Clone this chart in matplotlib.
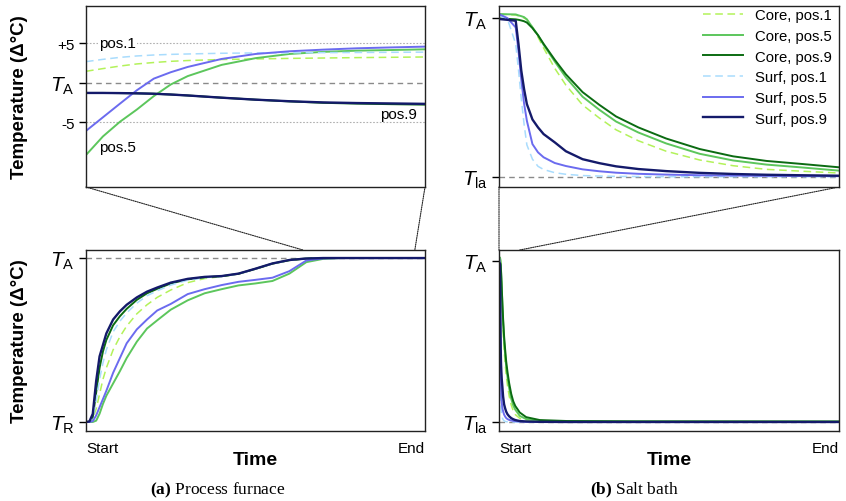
import matplotlib
matplotlib.use("Agg")
import matplotlib.pyplot as plt
from matplotlib.patches import ConnectionPatch

plt.rcParams["font.family"] = ["Liberation Sans", "DejaVu Sans"]
plt.rcParams["mathtext.fontset"] = "custom"
plt.rcParams["mathtext.rm"] = "Liberation Sans"
plt.rcParams["mathtext.it"] = "Liberation Sans:italic"
plt.rcParams["mathtext.bf"] = "Liberation Serif:bold"

# ---------------- data ----------------
series_labels = ["Core, pos.1", "Core, pos.5", "Core, pos.9",
                 "Surf, pos.1", "Surf, pos.5", "Surf, pos.9"]

# Process furnace, full run (0 = T_R, 1 = T_A), time normalised Start..End
furnace_time = [0, .01, .02, .03, .04, .05, .06, .08, .10, .12, .15, .18, .21,
                .25, .30, .35, .40, .45, .50, .55, .60, .65, .70, .75, .80, 1.0]
furnace_core_pos1 = [0, .002, .02, .08, .17, .26, .33, .44, .52, .585, .66, .715, .76,
                     .805, .85, .875, .887, .903, .933, .965, .986, .996, 1, 1, 1, 1]
furnace_core_pos5 = [0, 0, 0, .008, .05, .11, .16, .235, .31, .39, .49, .57, .62,
                     .685, .742, .785, .81, .833, .845, .86, .905, .975, .995, 1, 1, 1]
furnace_core_pos9 = [0, .002, .03, .18, .33, .43, .50, .59, .645, .69, .745, .785, .812,
                     .845, .87, .883, .889, .904, .934, .966, .987, .997, 1, 1, 1, 1]
furnace_surf_pos1 = [0, .002, .025, .13, .26, .36, .44, .55, .615, .665, .725, .77, .80,
                     .835, .865, .88, .888, .904, .934, .966, .987, .997, 1, 1, 1, 1]
furnace_surf_pos5 = [0, 0, .005, .04, .09, .14, .19, .30, .39, .48, .565, .625, .68,
                     .72, .78, .81, .835, .855, .867, .88, .92, .985, .998, 1, 1, 1]
furnace_surf_pos9 = [0, .003, .05, .25, .40, .47, .54, .625, .675, .715, .76, .795, .82,
                     .85, .873, .885, .89, .905, .935, .967, .988, .997, 1, 1, 1, 1]

# Process furnace, close-up of the holding phase (deviation from T_A in °C)
furnace_zoom_time = [0, .05, .1, .15, .2, .25, .3, .4, .5, .6, .7, .8, .9, 1.0]
furnace_zoom_core_pos1 = [1.44, 1.78, 2.1, 2.37, 2.55, 2.7, 2.8, 2.93, 3.0, 3.07, 3.12, 3.17, 3.21, 3.25]
furnace_zoom_core_pos5 = [-9.15, -6.8, -4.95, -3.4, -1.7, -.23, .83, 2.25, 3.1, 3.63, 3.9, 4.05, 4.13, 4.22]
furnace_zoom_core_pos9 = [-1.3, -1.3, -1.32, -1.35, -1.4, -1.5, -1.62, -1.9, -2.15, -2.37, -2.55, -2.65, -2.72, -2.78]
furnace_zoom_surf_pos1 = [2.66, 2.95, 3.2, 3.38, 3.5, 3.58, 3.63, 3.72, 3.76, 3.78, 3.8, 3.82, 3.84, 3.86]
furnace_zoom_surf_pos5 = [-6.1, -4.38, -2.66, -.96, .51, 1.32, 1.99, 3.0, 3.63, 3.97, 4.18, 4.35, 4.46, 4.56]
furnace_zoom_surf_pos9 = [-1.3, -1.3, -1.32, -1.35, -1.4, -1.5, -1.62, -1.9, -2.15, -2.35, -2.5, -2.58, -2.63, -2.68]

# Salt bath (1 = T_A, 0 = T_la), time in arbitrary units, run length 1000
bath_time = [0, 1.5, 3, 3.5, 4, 4.5, 5, 6, 7, 8, 10, 12, 15, 18, 21, 25, 30,
             36, 42, 48, 54, 61, 80, 120, 200, 400, 1000]
bath_core_pos1 = [1.023, 1.02, 1.017, 1.012, 1.005, .998, .99, .94, .878, .81, .682, .576, .451,
                  .369, .295, .226, .16, .105, .069, .046, .035, .023, .010, .004, .002, .001, .001]
bath_core_pos5 = [1.023, 1.022, 1.021, 1.015, 1.01, 1.004, .99, .94, .89, .83, .725, .625, .503,
                  .421, .347, .278, .209, .144, .102, .076, .059, .038, .018, .007, .003, .002, .002]
bath_core_pos9 = [.996, .993, .99, .987, .983, .978, .97, .935, .89, .836, .736, .644, .532,
                  .452, .379, .31, .24, .174, .128, .099, .081, .059, .03, .012, .006, .004, .003]
bath_surf_pos1 = [1.013, .994, .835, .67, .49, .33, .2, .11, .065, .045, .025, .015, .007,
                  .004, .002, .001, 0, 0, 0, 0, 0, 0, 0, 0, 0, 0, 0]
bath_surf_pos5 = [1.023, .998, .939, .79, .61, .46, .352, .205, .153, .122, .086, .067, .046,
                  .034, .025, .018, .013, .009, .007, .005, .004, .003, .001, 0, 0, 0, 0]
bath_surf_pos9 = [.992, .987, .981, .834, .667, .551, .457, .36, .31, .268, .216, .16, .11,
                  .085, .065, .048, .035, .024, .017, .012, .009, .006, .003, .001, 0, 0, 0]

furnace_window = (0.64, 0.97)   # part of the furnace run shown in the close-up
bath_window = (0, 61)           # part of the bath run shown in the close-up

# ---------------- styles ----------------
styles = [
    dict(color="#b3f25a", lw=1.1, ls=(0, (5, 3))),
    dict(color="#5cc65c", lw=1.4, ls="-"),
    dict(color="#0b6b12", lw=1.4, ls="-"),
    dict(color="#a9dcfd", lw=1.1, ls=(0, (5, 3))),
    dict(color="#6b6bef", lw=1.4, ls="-"),
    dict(color="#141a6a", lw=1.7, ls="-"),
]

W, H = 846, 502
fig = plt.figure(figsize=(W / 100, H / 100), dpi=100)


def add_ax(left, top, right, bottom):
    return fig.add_axes([left / W, 1 - bottom / H, (right - left) / W, (bottom - top) / H])


ax_fz = add_ax(86, 7, 425, 188)
ax_f = add_ax(86, 251, 425, 432)
ax_bz = add_ax(499, 7, 839, 188)
ax_b = add_ax(499, 251, 839, 432)

for ax in (ax_fz, ax_f, ax_bz, ax_b):
    for sp in ax.spines.values():
        sp.set_color("#222222")
        sp.set_linewidth(1.0)
    ax.tick_params(axis="y", length=5, width=1.0, labelsize=11, pad=3)
    ax.tick_params(axis="x", length=0)

ref_line = dict(color="#8a8a8a", lw=1.0, ls=(0, (4, 3)), zorder=1)

# ---- furnace close-up ----
fz_series = [furnace_zoom_core_pos1, furnace_zoom_core_pos5, furnace_zoom_core_pos9,
             furnace_zoom_surf_pos1, furnace_zoom_surf_pos5, furnace_zoom_surf_pos9]
ax_fz.axhline(0, **ref_line)
for lvl in (5, -5):
    ax_fz.axhline(lvl, color="#b0b0b0", lw=0.8, ls=(0, (1.5, 1.5)), zorder=1)
for ys, st in zip(fz_series, styles):
    ax_fz.plot(furnace_zoom_time, ys, **st)
ax_fz.set_xlim(0, 1)
ax_fz.set_ylim(-13.2, 9.7)
ax_fz.set_xticks([])
ax_fz.set_yticks([5, 0, -5])
ax_fz.set_yticklabels(["+5", r"$T_\mathrm{A}$", "-5"])
ax_fz.get_yticklabels()[1].set_fontsize(15)
txt_box = dict(facecolor="white", edgecolor="none", pad=1.0)
ax_fz.text(0.038, 5, "pos.1", fontsize=11, ha="left", va="center", bbox=txt_box, zorder=3)
ax_fz.text(0.038, -8.1, "pos.5", fontsize=11, ha="left", va="center", zorder=3)
ax_fz.text(0.976, -4.0, "pos.9", fontsize=11, ha="right", va="center", zorder=3)

# ---- furnace full ----
f_series = [furnace_core_pos1, furnace_core_pos5, furnace_core_pos9,
            furnace_surf_pos1, furnace_surf_pos5, furnace_surf_pos9]
ax_f.axhline(1, **ref_line)
for ys, st in zip(f_series, styles):
    ax_f.plot(furnace_time, ys, **st)
ax_f.set_xlim(0, 1)
ax_f.set_ylim(-0.055, 1.049)
ax_f.set_yticks([1, 0])
ax_f.set_yticklabels([r"$T_\mathrm{A}$", r"$T_\mathrm{R}$"], fontsize=15)

# ---- bath close-up ----
b_series = [bath_core_pos1, bath_core_pos5, bath_core_pos9,
            bath_surf_pos1, bath_surf_pos5, bath_surf_pos9]
ax_bz.axhline(0, **ref_line)
for ys, st, lab in zip(b_series, styles, series_labels):
    ax_bz.plot(bath_time, ys, label=lab, **st)
ax_bz.set_xlim(*bath_window)
ax_bz.set_ylim(-0.065, 1.074)
ax_bz.set_xticks([])
ax_bz.set_yticks([1, 0])
ax_bz.set_yticklabels([r"$T_\mathrm{A}$", r"$T_\mathrm{la}$"], fontsize=15)
ax_bz.legend(loc="upper right", bbox_to_anchor=(0.985, 1.0), frameon=False, fontsize=10.7,
             handlelength=2.7, labelspacing=0.45, borderaxespad=0.0, borderpad=0.15,
             handletextpad=0.8)

# ---- bath full ----
ax_b.axhline(0, **ref_line)
for ys, st in zip(b_series, styles):
    ax_b.plot(bath_time, ys, **st)
ax_b.set_xlim(0, 1000)
ax_b.set_ylim(-0.056, 1.068)
ax_b.set_yticks([1, 0])
ax_b.set_yticklabels([r"$T_\mathrm{A}$", r"$T_\mathrm{la}$"], fontsize=15)

# x axis: Start / End and Time label
for ax in (ax_f, ax_b):
    x0, x1 = ax.get_xlim()
    ax.set_xticks([x0, x1])
    ax.set_xticklabels(["Start", "End"], fontsize=11)
    ax.tick_params(axis="x", pad=7)
    lbls = ax.get_xticklabels()
    lbls[0].set_ha("left")
    lbls[1].set_ha("right")
    ax.set_xlabel("Time", fontsize=14, fontweight="bold", labelpad=-3)

# y labels
for ax in (ax_fz, ax_f):
    ax.text(-0.195, 0.5, "Temperature (Δ°C)", transform=ax.transAxes, rotation=90,
            ha="center", va="center", fontsize=13.5, fontweight="bold")

# zoom connectors
con_style = dict(color="#222222", lw=0.8, ls=(0, (1, 1)), zorder=0)
for xa, xb in ((0, furnace_window[0]), (1, furnace_window[1])):
    fig.add_artist(ConnectionPatch(xyA=(xa, 0), coordsA=ax_fz.transAxes,
                                   xyB=(xb, 1), coordsB=ax_f.get_xaxis_transform(), **con_style))
for xa, xb in ((0, bath_window[0]), (1, bath_window[1])):
    fig.add_artist(ConnectionPatch(xyA=(xa, 0), coordsA=ax_bz.transAxes,
                                   xyB=(xb, 1), coordsB=ax_b.get_xaxis_transform(), **con_style))

# captions
fig.text(218 / W, 1 - 490 / H, r"$\mathbf{(a)}$ Process furnace", family="Liberation Serif",
         fontsize=12.5, ha="center", va="center")
fig.text(634 / W, 1 - 490 / H, r"$\mathbf{(b)}$ Salt bath", family="Liberation Serif",
         fontsize=12.5, ha="center", va="center")

fig.savefig("out.png", dpi=100)
